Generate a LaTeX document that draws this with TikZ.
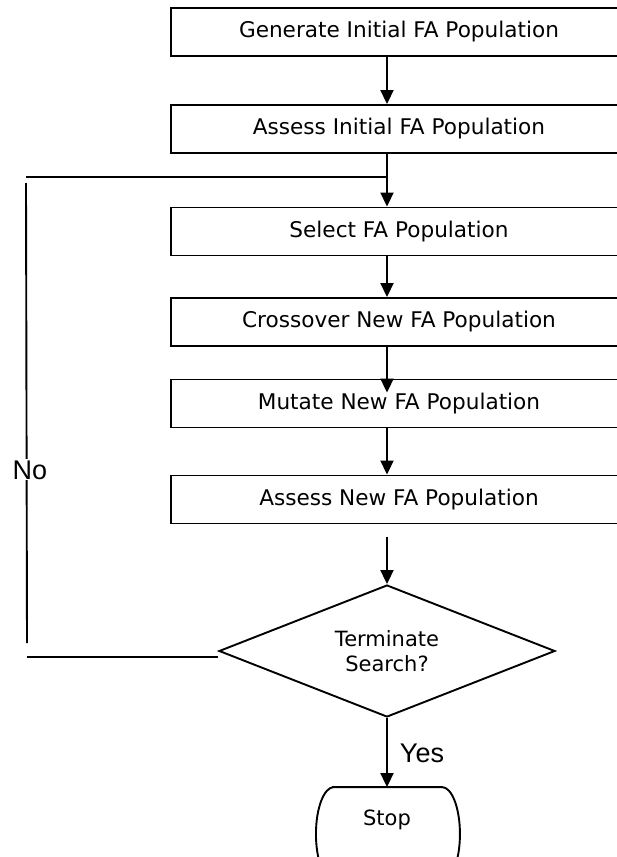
\documentclass[tikz,border=0pt]{standalone}
\usepackage{fontspec}
\setmainfont{DejaVu Sans}
\newfontfamily\labelfont{Liberation Sans}
\usetikzlibrary{arrows.meta,shapes.geometric}

\begin{document}
\begin{tikzpicture}[x=1pt, y=-1pt, line width=1.9pt,
    font=\fontsize{21}{25}\selectfont,
    stepbox/.style={draw, rectangle, minimum width=456pt, minimum height=48pt, inner sep=0pt,
      font=\fontsize{21.6}{25}\selectfont},
    decision/.style={draw, diamond, aspect=2.55, minimum width=336pt, minimum height=132pt, inner sep=0pt, align=center},
    terminal/.style={rectangle, minimum width=108pt, minimum height=64pt, inner sep=0pt},
    answer/.style={font=\labelfont\fontsize{27}{30}\selectfont, inner sep=1pt},
    flow/.style={-{Triangle[width=13pt,length=14pt]}}]
  \useasboundingbox (0,0) rectangle (617,857);
  \clip (0,0) rectangle (617,857);

  \node[stepbox] (b1) at (399,32) {Generate Initial FA Population};
  \node[stepbox] (b2) at (399,129) {Assess Initial FA Population};
  \node[stepbox] (b3) at (399,231.5) {Select FA Population};
  \node[stepbox] (b4) at (399,322) {Crossover New FA Population};
  \node[stepbox] (b5) at (399,403.5) {Mutate New FA Population};
  \node[stepbox] (b6) at (399,499.5) {Assess New FA Population};
  \node[decision] (d) at (387,651) {Terminate\\Search?};
  \node[terminal] (stop) at (387,820) {Stop};

  % outline of the stop box, runs off the bottom edge
  \draw (stop.north west) -- (stop.north east)
    arc[start angle=90, end angle=-90, x radius=18pt, y radius=47pt]
    -- ++(-108pt,0)
    arc[start angle=270, end angle=90, x radius=18pt, y radius=47pt];

  \coordinate (c6) at (387,537);
  \coordinate (fbtop) at (26,177);
  \coordinate (fbbot) at (27,657);

  \draw[flow] (b1.south -| d.north) -- (b2.north -| d.north);
  \draw[flow] (b2.south -| d.north) -- (b3.north -| d.north);
  \draw[flow] (b3.south -| d.north) -- (b4.north -| d.north);
  \draw[flow] (b4.south -| d.north) -- ([yshift=-14pt]b5.north -| d.north);
  \draw[flow] (b5.south -| d.north) -- (b6.north -| d.north);
  \draw[flow] (c6) -- (d.north);
  \draw[flow] (d.south) -- (stop.north);

  % way back when the search goes on
  \draw (d.west |- fbbot) -- (fbbot);
  \draw ([yshift=14pt]fbbot) -- ([yshift=-6pt]fbtop);
  \draw (fbtop) -- (fbtop -| d.north);

  \node[answer, fill=white, anchor=base] (no) at (30,479) {No};
  \node[answer, anchor=base] (yes) at (422,762) {Yes};
\end{tikzpicture}
\end{document}
